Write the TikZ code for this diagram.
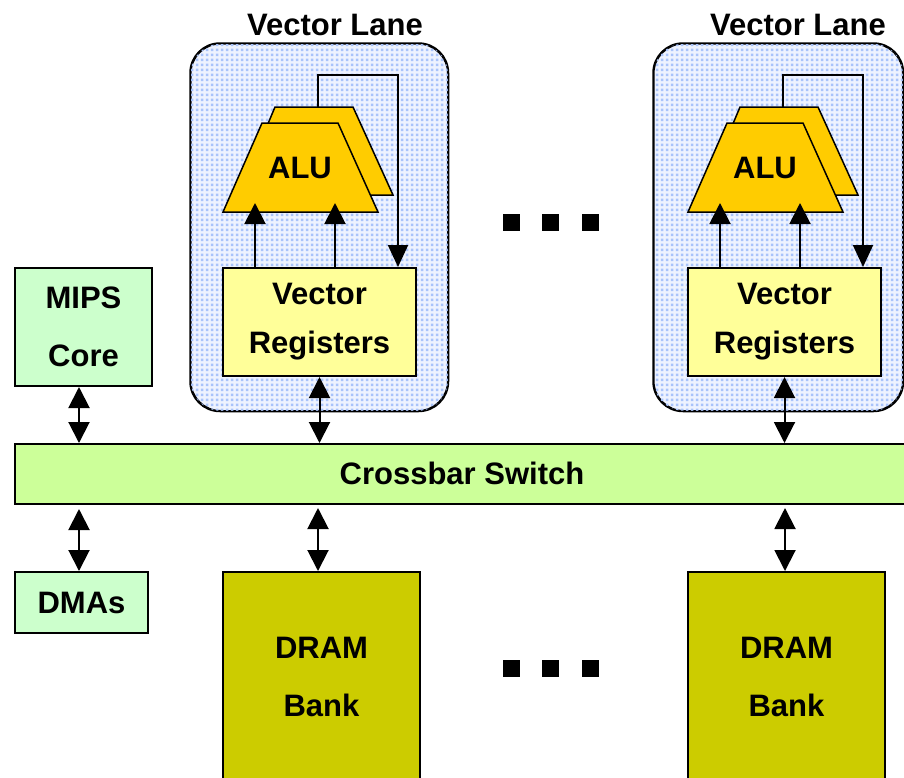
\documentclass[tikz,border=0pt]{standalone}
\usepackage{fontspec}
\setmainfont{Liberation Sans}
\usetikzlibrary{arrows.meta,patterns}

\definecolor{corefill}{HTML}{CCFFCC}
\definecolor{xbarfill}{HTML}{CCFF99}
\definecolor{regfill}{HTML}{FFFF99}
\definecolor{dramfill}{HTML}{CCCC00}
\definecolor{alufill}{HTML}{FFCC00}
\definecolor{lanebg}{HTML}{EEF3FF}
\definecolor{lanedot}{HTML}{A9C3FA}

% fine grid of small squares used as the lane background
\pgfdeclarepatternformonly{lanedots}{\pgfpointorigin}{\pgfpoint{5pt}{5pt}}{\pgfpoint{5pt}{5pt}}{%
  \pgfpathrectangle{\pgfpoint{1pt}{1pt}}{\pgfpoint{3pt}{3pt}}\pgfusepath{fill}}

\tikzset{
  txt/.style={font=\bfseries\fontsize{31}{37}\selectfont, inner sep=0pt},
  box/.style={draw=black, line width=2pt, inner sep=0pt, anchor=north west,
    font=\bfseries\fontsize{31}{58}\selectfont, align=center},
  lanebox/.style={draw=black, line width=1.5pt, rounded corners=30pt, inner sep=0pt,
    anchor=north west},
  alushape/.style={draw=black, line width=1.5pt, fill=alufill},
  arr/.style={line width=2pt, -{Triangle[width=21pt,length=21pt]}},
  dblarr/.style={line width=2pt, {Triangle[width=21pt,length=21pt]}-{Triangle[width=21pt,length=21pt]}},
  dot/.style={fill=black, minimum size=17pt, inner sep=0pt},
}

\begin{document}
\begin{tikzpicture}[x=1pt, y=-1pt]
\useasboundingbox (0,0) rectangle (904,777);
\clip (0,0) rectangle (904,777);

% ---- vector lanes ----
\node[lanebox, fill=lanebg, minimum width=257pt, minimum height=367pt] (lane1) at (190,43) {};
\fill[pattern=lanedots, pattern color=lanedot, rounded corners=30pt] (lane1.north west) rectangle (lane1.south east);
\draw[line width=1.5pt, rounded corners=30pt] (lane1.north west) rectangle (lane1.south east);
\node[lanebox, fill=lanebg, minimum width=249pt, minimum height=367pt] (lane2) at (653,43) {};
\fill[pattern=lanedots, pattern color=lanedot, rounded corners=30pt] (lane2.north west) rectangle (lane2.south east);
\draw[line width=1.5pt, rounded corners=30pt] (lane2.north west) rectangle (lane2.south east);

\node[txt] (title1) at (335,25) {Vector Lane};
\node[txt] (title2) at (798,25) {Vector Lane};

% lane contents, drawn once per lane
\foreach \s/\n in {0/1, 465/2} {
  \begin{scope}[xshift=\s]
    % pair of ALUs
    \draw[alushape] (238,195) -- (275,107) -- (353,107) -- (393,195) -- cycle;
    \draw[alushape] (223,212) -- (262,123) -- (338,123) -- (378,212) -- cycle;
    \node[txt] (alu\n) at (300,168) {ALU};
    % register file
    \node[box, fill=regfill, minimum width=193pt, minimum height=108pt,
          font=\bfseries\fontsize{31}{49}\selectfont] (vr\n) at (222,267) {Vector\\Registers};
    % operand paths
    \coordinate (ina\n) at (255,203);
    \coordinate (inb\n) at (335,203);
    \draw[arr] (vr\n.north -| ina\n) -- (ina\n);
    \draw[arr] (vr\n.north -| inb\n) -- (inb\n);
    % result write-back
    \coordinate (out\n) at (318,107);
    \coordinate (fb\n) at (398,75);
    \draw[line width=2pt, -{Triangle[width=20pt,length=22pt]}] (out\n) |- (fb\n) -- (vr\n.north -| fb\n);
  \end{scope}
}

% ---- processor core and DMA ----
\node[box, fill=corefill, minimum width=137pt, minimum height=118pt] (mips) at (14,267) {MIPS\\Core};
\node[box, fill=corefill, minimum width=133pt, minimum height=61pt] (dma) at (14,571) {DMAs};

% ---- crossbar ----
\node[box, fill=xbarfill, minimum width=900pt, minimum height=60pt] (xbar) at (14,443) {};
\node[txt] (xbartxt) at (462,473) {Crossbar Switch};

% ---- memory banks ----
\node[box, fill=dramfill, minimum width=197pt, minimum height=210pt] (dram1) at (222,571) {DRAM\\Bank};
\node[box, fill=dramfill, minimum width=197pt, minimum height=210pt] (dram2) at (687,571) {DRAM\\Bank};

% ---- interconnect ----
\coordinate (mipsx) at (79,0);
\draw[dblarr] (mips.south -| mipsx) -- (xbar.north -| mipsx);
\coordinate (dmatop) at (79,509);
\draw[dblarr] (dmatop) -- (dma.north -| dmatop);
\draw[dblarr] (vr1.south) -- (xbar.north -| vr1.south);
\draw[dblarr] (vr2.south) -- (xbar.north -| vr2.south);
\coordinate (d1top) at (318,508);
\coordinate (d2top) at (785,508);
\draw[dblarr] (d1top) -- (dram1.north -| d1top);
\draw[dblarr] (d2top) -- (dram2.north -| d2top);

% ---- ellipsis marks ----
\foreach \x [count=\i] in {511,550,590} {
  \node[dot] (dtop\i) at (\x,222) {};
  \node[dot] (dbot\i) at (\x,668) {};
}
\end{tikzpicture}
\end{document}
